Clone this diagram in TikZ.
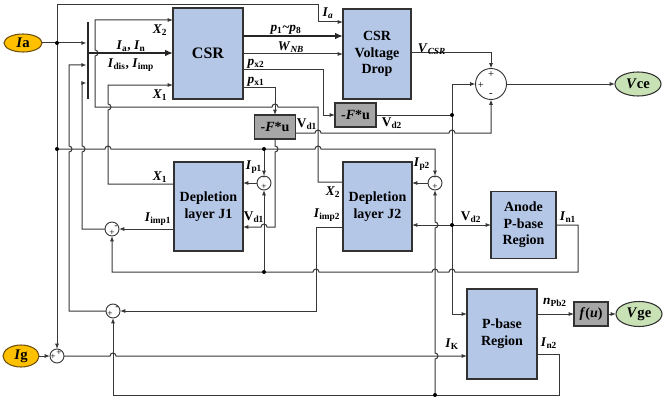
\documentclass[tikz,border=0pt]{standalone}
\usepackage{fontspec}
\setmainfont{Liberation Serif}
\usetikzlibrary{arrows.meta,shapes.geometric}
\definecolor{lc}{RGB}{55,55,55}
\definecolor{bc}{RGB}{50,50,50}
\definecolor{bf}{RGB}{180,199,231}
\definecolor{gf}{RGB}{166,166,166}
\definecolor{of}{RGB}{255,192,0}
\definecolor{ob}{RGB}{110,80,10}
\definecolor{grf}{RGB}{200,226,182}
\newcommand\hjr[2]{-- (#1-3,#2) arc[start angle=180,end angle=360,radius=3]}
\newcommand\hjl[2]{-- (#1+3,#2) arc[start angle=0,end angle=-180,radius=3]}
\newcommand\vjd[2]{-- (#1,#2-3) arc[start angle=270,end angle=450,radius=3]}
\newcommand\vju[2]{-- (#1,#2+3) arc[start angle=90,end angle=-90,radius=3]}
\newcommand\sub[1]{\textsubscript{#1}}
\begin{document}
\begin{tikzpicture}[x=0.75pt,y=-0.75pt,
  wh/.style 2 args={minimum width=#1*0.75pt, minimum height=#2*0.75pt},
  blk/.style={draw=bc, fill=bf, line width=0.8pt, inner sep=0, outer sep=0, align=center, font=\bfseries\fontsize{10.5}{12.5}\selectfont},
  gblk/.style={draw=bc, fill=gf, line width=0.8pt, inner sep=0, outer sep=0, font=\bfseries\fontsize{10.5}{12}\selectfont},
  oell/.style={ellipse, draw=ob, fill=of, line width=0.8pt, inner sep=0, outer sep=0, font=\bfseries\fontsize{11}{12}\selectfont},
  gell/.style={ellipse, draw=bc, fill=grf, line width=0.8pt, inner sep=0, outer sep=0, font=\bfseries\fontsize{11}{12}\selectfont},
  sumn/.style={circle, draw=lc, fill=white, line width=0.7pt, inner sep=0, outer sep=0},
  sgn/.style={inner sep=0, font=\fontsize{7}{7}\selectfont},
  lbl/.style={inner sep=0, font=\bfseries\fontsize{10}{10}\selectfont},
  ln/.style={draw=lc, line width=0.75pt},
  arr/.style={ln, -{Latex[length=4pt,width=3pt]}},
  thk/.style={draw=black!85, line width=2pt, -{Latex[length=6pt,width=5pt]}}]
\useasboundingbox (0,0) rectangle (663,403);
% blocks
\node[blk, wh={70}{91}] (csr) at (208,53.5) {\fontsize{12}{14}\selectfont CSR};
\node[blk, wh={68}{90}] (vd) at (377,54) {CSR\\Voltage\\Drop};
\node[blk, wh={69}{89}] (j1) at (208.5,206.5) {Depletion\\layer J1};
\node[blk, wh={69}{89}] (j2) at (377.5,206.5) {Depletion\\layer J2};
\node[blk, wh={65}{67}] (anode) at (523.5,225) {Anode\\P-base\\Region};
\node[blk, wh={70}{90}] (pb) at (502,334) {P-base\\Region};
\node[gblk, wh={41}{24}] (fu1) at (275,127) {-\textit{F}*u};
\node[gblk, wh={41}{24}] (fu2) at (355.5,115) {-\textit{F}*u};
\node[gblk, wh={34}{24}] (fu) at (591,314) {\textit{f}(\textit{u})};
\node[oell, wh={38}{18}] (Ia) at (23,43) {\textit{I}a};
\node[oell, wh={36}{22}] (Ig) at (21,356) {\textit{I}g};
\node[gell, wh={46}{24}] (Vce) at (638,84) {\textit{V}ce};
\node[gell, wh={46}{25}] (Vge) at (639,314) {\textit{V}ge};
\node[fill=black!85, inner sep=0, outer sep=0, wh={2.6}{77}] (bus) at (88,60.5) {};
% sums
\node[sumn, minimum size=31*0.75pt] (s0) at (491,84) {};
\node[sumn, minimum size=14*0.75pt] (sp1) at (264,183) {};
\node[sumn, minimum size=14*0.75pt] (sp2) at (435,183) {};
\node[sumn, minimum size=14*0.75pt] (si1) at (112,229) {};
\node[sumn, minimum size=14*0.75pt] (si2) at (113,311) {};
\node[sumn, minimum size=14*0.75pt] (sg) at (57,356) {};
\node[sgn, font=\fontsize{8}{8}\selectfont] at (491,74) {+};
\node[sgn, font=\fontsize{8}{8}\selectfont] at (481,85) {+};
\node[sgn, font=\fontsize{8}{8}\selectfont] at (491,95) {-};
\node[sgn] at (264,178.5) {-}; \node[sgn] at (264,186.5) {+};
\node[sgn] at (435,178.5) {-}; \node[sgn] at (435,186.5) {+};
\node[sgn] at (116,227.5) {-}; \node[sgn] at (112,232.5) {+};
\node[sgn] at (110,314) {+}; \node[sgn] at (117,308.5) {-};
\node[sgn] at (59,352.5) {+}; \node[sgn] at (53,357) {+};
% coordinates
\coordinate (dA) at (57,43);
\coordinate (dB) at (57,149);
\coordinate (dP) at (264,149);
\coordinate (dN) at (264,272);
\coordinate (dV) at (452,115);
\coordinate (dW) at (452,225);
\coordinate (dK) at (435,395);
% Ia
\draw[arr] (Ia.east) -- (Ia.east -| bus.west);
\draw[arr] (dA) -- (57,5) -- (318,5) -- (318,22) -- (vd.west |- 0,22);
\draw[arr] (dA) -- (sg.north);
\draw[arr] (dB) \hjr{108}{149} \hjr{318}{149} -- (435,149) -- (sp2.north);
\draw[arr] (dP) -- (sp1.north);
\draw[arr] (sp1.west) -- (sp1.west -| j1.east);
\draw[arr] (sp2.west) -- (sp2.west -| j2.east);
% In1
\draw[arr] (anode.east) -- (578,225) -- (578,272) \hjl{452}{272} \hjl{435}{272} \hjl{316}{272} -- (112,272) -- (si1.south);
\draw[arr] (dN) -- (sp1.south);
% Iimp1
\draw[arr] (j1.west |- 0,229) -- (si1.east);
\draw[arr] (si1.west) -- (82,229) \vju{82}{149} -- (82,83) -- (bus.west |- 0,83);
% lower sum
\draw[arr] (si2.west) -- (69,311) \vju{69}{149} -- (69,65) -- (bus.west |- 0,65);
\draw[arr] (j2.west |- 0,227) -- (316,227) -- (316,311) -- (si2.east);
% In2
\draw[arr] (pb.east |- 0,354) -- (559,354) -- (559,395) -- (113,395) -- (si2.south);
\draw[arr] (dK) \vju{435}{356} \vju{435}{225} -- (sp2.south);
% Ig
\draw[arr] (Ig.east) -- (sg.west);
\draw[arr] (sg.east) \hjr{113}{356} -- (pb.west |- 0,356);
% X2
\draw[arr] (j2.west |- 0,182) -- (318,182) -- (318,107) \hjl{275}{107} -- (95,107) \vju{95}{53} -- (95,20) -- (csr.west |- 0,20);
% X1
\draw[arr] (j1.west |- 0,184) -- (108,184) \vju{108}{107} -- (108,85) -- (csr.west |- 0,85);
% bus to CSR
\draw[thk] (bus.east |- 0,53) -- (csr.west |- 0,53);
\draw[thk] (csr.east |- 0,36) -- (vd.west |- 0,36);
\draw[arr] (csr.east |- 0,54) -- (vd.west |- 0,54);
\draw[arr] (vd.east |- 0,53) -- (491,53) -- (s0.north);
\draw[arr] (s0.east) -- (Vce.west);
% px2, px1
\draw[arr] (csr.east |- 0,70) -- (323,70) -- (323,115) -- (fu2.west);
\draw[arr] (csr.east |- 0,87) -- (275,87) -- (fu1.north);
% Vd2
\draw[ln] (fu2.east) -- (dV);
\draw[arr] (dV) -- (452,84) -- (s0.west);
\draw[arr] (dV) -- (452,314) -- (pb.west |- 0,314);
\draw[arr] (dW) -- (j2.east |- 0,225);
\draw[arr] (dW) -- (anode.west |- 0,225);
% Vd1
\draw[arr] (fu1.east |- 0,133) \hjr{318}{133} \hjr{452}{133} -- (491,133) -- (s0.south);
\draw[arr] (fu1.south) \vjd{275}{149} -- (275,227) \hjl{264}{227} -- (j1.east |- 0,227);
% P-base out
\draw[arr] (pb.east |- 0,314) -- (fu.west);
\draw[arr] (fu.east) -- (Vge.west);
% dots
\foreach \p in {dA,dB,dP,dN,dV,dW,dK} \fill (\p) circle[radius=2];
% labels
\node[lbl] at (160,30) {\textit{X}\sub{2}};
\node[lbl] at (131,46) {\textit{I}\sub{a}, \textit{I}\sub{n}};
\node[lbl] at (131,65) {\textit{I}\sub{dis}, \textit{I}\sub{imp}};
\node[lbl] at (160,95) {\textit{X}\sub{1}};
\node[lbl] at (286,30) {\textit{p}\sub{1}\textasciitilde\textit{p}\sub{8}};
\node[lbl] at (291,47) {\textit{W}\sub{\textit{NB}}};
\node[lbl] at (256,64) {\textit{p}\sub{x2}};
\node[lbl] at (256,82) {\textit{p}\sub{x1}};
\node[lbl] at (328,13) {\textit{I}\sub{\textit{a}}};
\node[lbl] at (432,49) {\textit{V}\sub{\textit{CSR}}};
\node[lbl] at (307,124) {V\sub{d1}};
\node[lbl] at (392,123) {V\sub{d2}};
\node[lbl] at (254,167) {\textit{I}\sub{p1}};
\node[lbl] at (254,217) {V\sub{d1}};
\node[lbl] at (160,177) {\textit{X}\sub{1}};
\node[lbl] at (158,219) {\textit{I}\sub{imp1}};
\node[lbl] at (333,192) {\textit{X}\sub{2}};
\node[lbl] at (327,215) {\textit{I}\sub{imp2}};
\node[lbl] at (422,164) {\textit{I}\sub{p2}};
\node[lbl] at (471,217) {V\sub{d2}};
\node[lbl] at (568,217) {\textit{I}\sub{n1}};
\node[lbl] at (555,302) {\textit{n}\sub{Pb2}};
\node[lbl] at (549,343) {\textit{I}\sub{n2}};
\node[lbl] at (452,344) {\textit{I}\sub{K}};
\end{tikzpicture}
\end{document}
